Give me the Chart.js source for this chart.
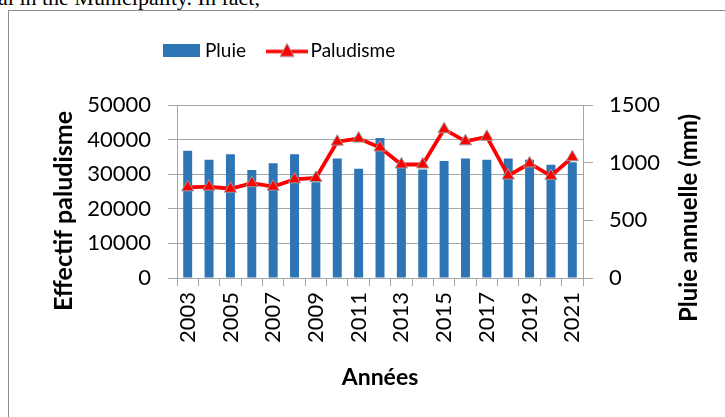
<!DOCTYPE html>
<html>
<head>
<meta charset="utf-8">
<script src="https://cdn.jsdelivr.net/npm/chart.js@4.4.0/dist/chart.umd.min.js"></script>
<style>
  body { margin: 0; background: #fff; overflow: hidden; }
  #wrap { position: relative; width: 725px; height: 417px; }
  #txt { position: absolute; left: -2px; top: -13px; font: 22px "Liberation Serif", serif; line-height: 22px; color: #000; white-space: nowrap; }
  #box { position: absolute; left: 8px; top: 10px; width: 740px; height: 430px; border: 1px solid #8c8c8c; }
  #holder { position: absolute; left: 0; top: 0; width: 725px; height: 417px; }
</style>
</head>
<body>
<div id="wrap">
  <div id="txt">al in the Municipality. In fact,</div>
  <div id="box"></div>
  <div id="holder"><canvas id="myChart"></canvas></div>
</div>
<script>
const ctx = document.getElementById('myChart');

const years = ["2003", "2004", "2005", "2006", "2007", "2008", "2009", "2010", "2011", "2012",
  "2013", "2014", "2015", "2016", "2017", "2018", "2019", "2020", "2021"];
// pluie annuelle (mm)
const pluie = [1103, 1026, 1072, 937, 994, 1072, 830, 1037, 948, 1213,
  960, 940, 1015, 1037, 1026, 1037, 1026, 983, 1003];
// effectif paludisme
const paludisme = [26200, 26400, 25800, 27400, 26400, 28500, 28900, 39400, 40300, 37700,
  32800, 32800, 43000, 39500, 40800, 29600, 33100, 29500, 34900];
const leftTicks = [0, 10000, 20000, 30000, 40000, 50000];
const rightTicks = [0, 500, 1000, 1500];

const font = 'Lato';
const blue = '#2e75b6';
const red = '#ff0000';
const gridGray = '#a6a6a6';

// legend symbols
function legendBar() {
  const c = document.createElement('canvas');
  c.width = 37; c.height = 13;
  const g = c.getContext('2d');
  g.fillStyle = blue;
  g.fillRect(0, 0, 37, 13);
  return c;
}
function legendLine() {
  const c = document.createElement('canvas');
  c.width = 42; c.height = 16;
  const g = c.getContext('2d');
  g.strokeStyle = red; g.lineWidth = 3.5;
  g.beginPath(); g.moveTo(0, 9); g.lineTo(42, 9); g.stroke();
  g.fillStyle = red; g.strokeStyle = '#999'; g.lineWidth = 1;
  g.beginPath(); g.moveTo(21, 1); g.lineTo(28, 14); g.lineTo(14, 14); g.closePath();
  g.fill(); g.stroke();
  return c;
}
const symbols = [legendBar(), legendLine()];

// axis titles drawn reading bottom-to-top on both sides
const sideTitles = {
  id: 'sideTitles',
  afterLayout(chart) {
    const lg = chart.legend;
    const w = lg.width, h = lg.height;
    lg.left = 140.5; lg.right = 140.5 + w;
    lg.top = 14; lg.bottom = 14 + h;
  },
  afterDraw(chart) {
    const c = chart.ctx;
    const items = [
      { text: 'Effectif paludisme', x: 64, y: 211, size: 25 },
      { text: 'Pluie annuelle (mm)', x: 689, y: 218, size: 24 }
    ];
    c.save();
    c.fillStyle = '#000';
    c.textAlign = 'center';
    c.textBaseline = 'middle';
    items.forEach(t => {
      c.save();
      c.translate(t.x, t.y);
      c.rotate(-Math.PI / 2);
      c.font = 'bold ' + t.size + 'px ' + font;
      c.fillText(t.text, 0, 0);
      c.restore();
    });
    c.restore();
  }
};

new Chart(ctx, {
  data: {
    labels: years,
    datasets: [
      {
        type: 'bar',
        label: 'Pluie',
        data: pluie,
        yAxisID: 'y1',
        backgroundColor: blue,
        categoryPercentage: 1,
        barPercentage: 0.42,
        order: 1
      },
      {
        type: 'line',
        label: 'Paludisme',
        data: paludisme,
        yAxisID: 'y',
        borderColor: red,
        borderWidth: 3.8,
        pointStyle: 'triangle',
        pointRadius: 7,
        pointBackgroundColor: red,
        pointBorderColor: '#999',
        pointBorderWidth: 1,
        tension: 0,
        order: 0
      }
    ]
  },
  options: {
    responsive: true,
    maintainAspectRatio: false,
    animation: false,
    layout: { padding: { left: 45, right: 17, top: 49, bottom: 22 } },
    plugins: {
      tooltip: { enabled: false },
      legend: {
        position: 'top',
        align: 'start',
        labels: {
          usePointStyle: true,
          pointStyleWidth: 28,
          padding: 27,
          color: '#000',
          font: { family: font, size: 19 },
          generateLabels: (chart) => chart.data.datasets.map((d, i) => ({
            text: d.label,
            pointStyle: symbols[i],
            datasetIndex: i,
            fontColor: '#000',
            lineWidth: 0
          }))
        }
      }
    },
    scales: {
      x: {
        offset: true,
        grid: { drawOnChartArea: false, drawTicks: true, tickLength: 8, color: gridGray },
        border: { color: gridGray },
        ticks: {
          autoSkip: false,
          minRotation: 90,
          maxRotation: 90,
          padding: 6,
          color: '#000',
          font: { family: font, size: 22 },
          callback: (v, i) => (i % 2 === 0 ? years[i] : '')
        },
        title: { display: true, text: 'Années', color: '#000', font: { family: font, size: 23, weight: 'bold' } },
        afterFit: (s) => { s.height = 117; }
      },
      y: {
        position: 'left',
        min: 0,
        max: 50000,
        afterBuildTicks: (s) => { s.ticks = leftTicks.map(v => ({ value: v })); },
        grid: { color: gridGray, tickLength: 9 },
        border: { color: gridGray },
        ticks: { padding: 17, color: '#000', font: { family: font, size: 22 }, callback: (v) => String(v) },
        afterFit: (s) => { s.width = 132; }
      },
      y1: {
        position: 'right',
        min: 0,
        max: 1500,
        afterBuildTicks: (s) => { s.ticks = rightTicks.map(v => ({ value: v })); },
        grid: { drawOnChartArea: false, color: gridGray, tickLength: 10 },
        border: { color: gridGray },
        ticks: { padding: 16, color: '#000', font: { family: font, size: 22 }, callback: (v) => String(v) },
        afterFit: (s) => { s.width = 125; }
      }
    }
  },
  plugins: [sideTitles]
});
</script>
</body>
</html>
